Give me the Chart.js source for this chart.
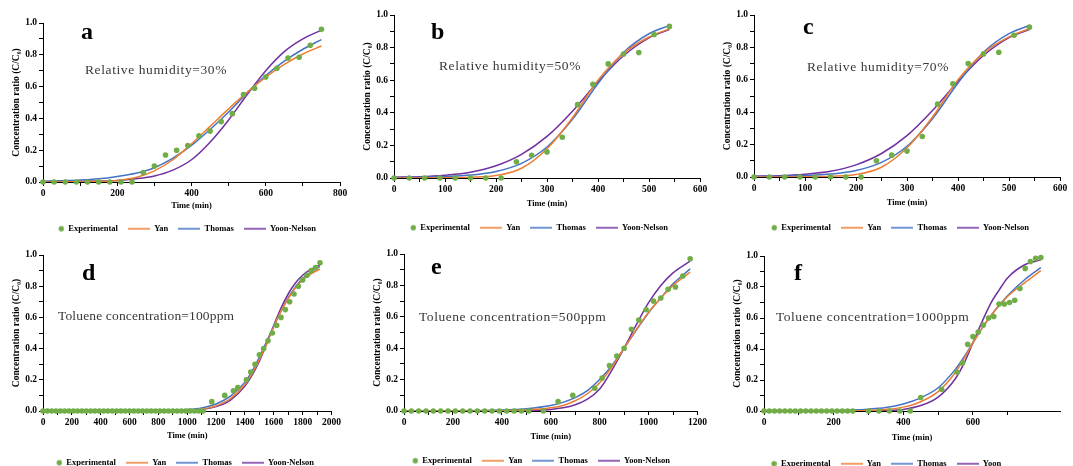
<!DOCTYPE html>
<html>
<head>
<meta charset="utf-8">
<script src="https://cdn.jsdelivr.net/npm/chart.js@4.4.1/dist/chart.umd.min.js"></script>
<style>
html, body { margin: 0; padding: 0; background: #fff; overflow: hidden; }
#fig { position: relative; width: 1073px; height: 466px; }
#fig canvas { position: absolute; }
.tag { position: absolute; font-family: "Liberation Serif", serif; font-weight: bold; font-size: 24px; line-height: 1; color: #000; white-space: nowrap; }
.note { position: absolute; font-family: "Liberation Serif", serif; font-size: 13.5px; line-height: 1; color: #383838; white-space: nowrap; }
</style>
</head>
<body>
<div id="fig">
  <canvas id="chartA" width="350" height="243" style="left:0px;top:0px"></canvas>
  <canvas id="chartB" width="359" height="242" style="left:351px;top:0px"></canvas>
  <canvas id="chartC" width="359" height="242" style="left:711px;top:0px"></canvas>
  <canvas id="chartD" width="343" height="242" style="left:0px;top:235px"></canvas>
  <canvas id="chartE" width="348" height="240" style="left:361px;top:235px"></canvas>
  <canvas id="chartF" width="349" height="243" style="left:721px;top:235px"></canvas>

  <div class="tag" style="left:81px;top:19px">a</div>
  <div class="tag" style="left:431px;top:19px">b</div>
  <div class="tag" style="left:803px;top:14px">c</div>
  <div class="tag" style="left:82px;top:260px">d</div>
  <div class="tag" style="left:431px;top:254px">e</div>
  <div class="tag" style="left:794px;top:260px">f</div>

  <div class="note" style="left:85px;top:62.6px;letter-spacing:0.6px">Relative humidity=30%</div>
  <div class="note" style="left:439px;top:59.3px;letter-spacing:0.6px">Relative humidity=50%</div>
  <div class="note" style="left:807px;top:60px;letter-spacing:0.6px">Relative humidity=70%</div>
  <div class="note" style="left:58px;top:308.6px;letter-spacing:0.15px">Toluene concentration=100ppm</div>
  <div class="note" style="left:419px;top:310px;letter-spacing:0.55px">Toluene concentration=500ppm</div>
  <div class="note" style="left:776px;top:310.3px;letter-spacing:0.5px">Toluene concentration=1000ppm</div>
</div>

<script>
// ---- data ----

// a: relative humidity 30%
const aExpTime = [0, 30, 60, 90, 120, 150, 180, 210, 240, 270, 300, 330, 360, 390, 420, 450, 480, 510, 540, 570, 600, 630, 660, 690, 720, 750];
const aExpRatio = [0, 0, 0, 0, 0, 0, 0, 0, 0, 0.06, 0.10, 0.17, 0.20, 0.23, 0.29, 0.32, 0.38, 0.43, 0.55, 0.59, 0.66, 0.715, 0.78, 0.785, 0.86, 0.96];
const aFitTime = [0, 50, 100, 150, 200, 250, 300, 350, 400, 450, 500, 550, 600, 650, 700, 750];
const aYan = [0, 0.001, 0.002, 0.004, 0.01, 0.028, 0.07, 0.14, 0.24, 0.35, 0.46, 0.565, 0.66, 0.74, 0.805, 0.855];
const aThomas = [0.005, 0.008, 0.012, 0.02, 0.035, 0.055, 0.09, 0.15, 0.23, 0.33, 0.44, 0.56, 0.67, 0.76, 0.835, 0.895];
const aYoon = [0.002, 0.003, 0.004, 0.006, 0.01, 0.02, 0.038, 0.075, 0.14, 0.25, 0.39, 0.55, 0.70, 0.82, 0.90, 0.955];

// b: relative humidity 50%
const bExpTime = [0, 30, 60, 90, 120, 150, 180, 210, 240, 270, 300, 330, 360, 390, 420, 450, 480, 510, 540];
const bExpRatio = [0, 0, 0, 0, 0, 0, 0, 0, 0.10, 0.14, 0.16, 0.25, 0.45, 0.575, 0.70, 0.76, 0.77, 0.88, 0.93];
const bFitTime = [0, 50, 100, 150, 200, 250, 300, 350, 400, 450, 500, 540];
const bYan = [0, 0, 0.001, 0.005, 0.015, 0.06, 0.18, 0.37, 0.60, 0.765, 0.865, 0.915];
const bThomas = [0.003, 0.005, 0.009, 0.018, 0.04, 0.09, 0.19, 0.36, 0.58, 0.77, 0.885, 0.935];
const bYoon = [0.005, 0.008, 0.017, 0.035, 0.075, 0.145, 0.255, 0.41, 0.59, 0.75, 0.86, 0.91];

// c: relative humidity 70%
const cExpTime = [0, 30, 60, 90, 120, 150, 180, 210, 240, 270, 300, 330, 360, 390, 420, 450, 480, 510, 540];
const cExpRatio = [0, 0, 0, 0, 0, 0, 0, 0, 0.10, 0.135, 0.16, 0.25, 0.45, 0.575, 0.70, 0.76, 0.77, 0.875, 0.925];
const cFitTime = [0, 50, 100, 150, 200, 250, 300, 350, 400, 450, 500, 540];
const cYan = [0, 0, 0.001, 0.005, 0.015, 0.06, 0.18, 0.37, 0.60, 0.765, 0.865, 0.915];
const cThomas = [0.003, 0.005, 0.009, 0.018, 0.04, 0.09, 0.19, 0.36, 0.58, 0.77, 0.885, 0.935];
const cYoon = [0.005, 0.008, 0.017, 0.035, 0.075, 0.145, 0.255, 0.41, 0.59, 0.75, 0.86, 0.91];

// d: toluene 100 ppm
const dExpTime = [0, 30, 60, 90, 120, 150, 180, 210, 240, 270, 300, 330, 360, 390, 420, 450, 480, 510, 540, 570,
  600, 630, 660, 690, 720, 750, 780, 810, 840, 870, 900, 930, 960, 990, 1020, 1050, 1080, 1110,
  1170, 1260, 1320, 1350, 1410, 1440, 1470, 1500, 1530, 1560, 1590, 1620, 1650, 1680, 1710, 1740, 1770, 1800, 1830, 1860, 1890, 1920];
const dExpRatio = [0, 0, 0, 0, 0, 0, 0, 0, 0, 0, 0, 0, 0, 0, 0, 0, 0, 0, 0, 0,
  0, 0, 0, 0, 0, 0, 0, 0, 0, 0, 0, 0, 0, 0, 0, 0, 0, 0,
  0.06, 0.10, 0.13, 0.15, 0.20, 0.25, 0.30, 0.36, 0.40, 0.45, 0.50, 0.55, 0.60, 0.65, 0.70, 0.75, 0.80, 0.84, 0.87, 0.90, 0.92, 0.95];
const dFitTime = [0, 200, 400, 600, 800, 1000, 1100, 1200, 1300, 1400, 1450, 1500, 1550, 1600, 1650, 1700, 1750, 1800, 1850, 1920];
const dYan = [0, 0, 0, 0, 0.001, 0.004, 0.012, 0.033, 0.08, 0.17, 0.24, 0.33, 0.43, 0.54, 0.64, 0.72, 0.79, 0.84, 0.875, 0.91];
const dThomas = [0, 0, 0, 0.001, 0.003, 0.01, 0.02, 0.045, 0.095, 0.185, 0.255, 0.345, 0.445, 0.545, 0.64, 0.725, 0.795, 0.85, 0.885, 0.925];
const dYoon = [0, 0, 0, 0, 0.001, 0.004, 0.01, 0.028, 0.07, 0.16, 0.23, 0.32, 0.43, 0.55, 0.66, 0.75, 0.82, 0.87, 0.905, 0.935];

// e: toluene 500 ppm
const eExpTime = [0, 30, 60, 90, 120, 150, 180, 210, 240, 270, 300, 330, 360, 390, 420, 450, 480, 510, 570,
  630, 690, 780, 810, 840, 870, 900, 930, 960, 990, 1020, 1050, 1080, 1110, 1140, 1170];
const eExpRatio = [0, 0, 0, 0, 0, 0, 0, 0, 0, 0, 0, 0, 0, 0, 0, 0, 0, 0, 0,
  0.06, 0.10, 0.145, 0.21, 0.29, 0.35, 0.40, 0.52, 0.58, 0.645, 0.70, 0.72, 0.775, 0.79, 0.86, 0.97];
const eFitTime = [0, 200, 400, 500, 600, 650, 700, 750, 800, 850, 900, 950, 1000, 1050, 1100, 1170];
const eYan = [0, 0, 0.002, 0.006, 0.02, 0.035, 0.065, 0.11, 0.18, 0.28, 0.40, 0.52, 0.63, 0.72, 0.80, 0.885];
const eThomas = [0, 0.001, 0.006, 0.015, 0.035, 0.055, 0.085, 0.13, 0.20, 0.29, 0.40, 0.515, 0.625, 0.72, 0.81, 0.905];
const eYoon = [0, 0, 0.001, 0.003, 0.01, 0.02, 0.04, 0.075, 0.14, 0.26, 0.40, 0.55, 0.69, 0.80, 0.88, 0.955];

// f: toluene 1000 ppm
const fExpTime = [0, 15, 30, 45, 60, 75, 90, 105, 120, 135, 150, 165, 180, 195, 210, 225, 240, 255,
  300, 330, 360, 390, 420, 450, 510, 555, 570, 585, 600, 615, 630, 645, 660, 675, 690, 705, 720, 735, 750, 765, 780, 795];
const fExpRatio = [0, 0, 0, 0, 0, 0, 0, 0, 0, 0, 0, 0, 0, 0, 0, 0, 0, 0,
  0, 0, 0, 0, 0, 0.087, 0.14, 0.25, 0.31, 0.43, 0.48, 0.51, 0.555, 0.60, 0.61, 0.69, 0.69, 0.70, 0.715, 0.79, 0.92, 0.965, 0.985, 0.99];
const fFitTime = [0, 100, 200, 300, 350, 400, 450, 500, 550, 575, 600, 625, 650, 675, 700, 750, 795];
const fYan = [0, 0, 0.001, 0.004, 0.01, 0.025, 0.06, 0.125, 0.25, 0.34, 0.44, 0.53, 0.61, 0.68, 0.74, 0.83, 0.905];
const fThomas = [0, 0.001, 0.003, 0.012, 0.022, 0.045, 0.085, 0.15, 0.27, 0.35, 0.44, 0.53, 0.61, 0.68, 0.745, 0.85, 0.925];
const fYoon = [0, 0, 0, 0.001, 0.003, 0.01, 0.035, 0.09, 0.21, 0.31, 0.44, 0.57, 0.69, 0.78, 0.86, 0.945, 0.975];

// ---- styling ----
const SERIF = '"Liberation Serif", "Times New Roman", serif';
const GREEN = '#70AD47';
const ORANGE = '#ED7D31';
const BLUE = '#4472C4';
const PURPLE = '#7030A0';
const ICON_W = 22;

// small canvases used as legend symbols
function legendIcon(kind, color) {
    const c = document.createElement('canvas');
    c.width = ICON_W;
    c.height = 8;
    const g = c.getContext('2d');
    if (kind === 'dot') {
        g.fillStyle = color;
        g.beginPath();
        g.arc(ICON_W - 2.8, 4, 2.7, 0, Math.PI * 2);
        g.fill();
    } else {
        g.strokeStyle = color;
        g.lineWidth = 1.5;
        g.beginPath();
        g.moveTo(0, 4);
        g.lineTo(ICON_W, 4);
        g.stroke();
    }
    return c;
}

// moves the legend so it sits where it does in the figure
const legendShift = {
    id: 'legendShift',
    afterLayout(chart, args, opts) {
        const lg = chart.legend;
        if (!lg) return;
        const d = opts.center - (lg.left + lg.right) / 2;
        lg.left += d;
        lg.right += d;
    }
};

function pairs(xs, ys) {
    return xs.map((x, i) => ({ x: x, y: ys[i] }));
}

function fitLine(label, color, xs, ys) {
    return {
        label: label,
        data: pairs(xs, ys),
        showLine: true,
        borderColor: color,
        backgroundColor: color,
        borderWidth: 1.5,
        pointRadius: 0,
        cubicInterpolationMode: 'monotone',
        icon: legendIcon('line', color)
    };
}

function makePanel(p) {
    const tickFont = { family: SERIF, size: 9.5, weight: 'bold' };
    const titleFont = { family: SERIF, size: 8.5, weight: 'bold' };
    const axisGrid = { display: true, drawOnChartArea: false, drawTicks: true, tickLength: 4, color: '#000', lineWidth: 1 };

    new Chart(document.getElementById(p.id), {
        type: 'scatter',
        data: {
            datasets: [
                {
                    label: 'Experimental',
                    data: pairs(p.expTime, p.expRatio),
                    pointRadius: 2.8,
                    pointBorderWidth: 0,
                    pointBackgroundColor: GREEN,
                    borderColor: GREEN,
                    backgroundColor: GREEN,
                    clip: false,
                    icon: legendIcon('dot', GREEN)
                },
                fitLine('Yan', ORANGE, p.fitTime, p.yan),
                fitLine('Thomas', BLUE, p.fitTime, p.thomas),
                fitLine(p.yoonLabel, PURPLE, p.fitTime, p.yoon)
            ]
        },
        options: {
            responsive: false,
            animation: false,
            devicePixelRatio: 1,
            events: [],
            layout: { padding: { left: 8, top: p.padTop, right: 10, bottom: 0 } },
            scales: {
                x: {
                    type: 'linear',
                    min: 0,
                    max: p.xMax,
                    border: { color: '#000', width: 1 },
                    grid: axisGrid,
                    ticks: {
                        stepSize: p.xStep,
                        autoSkip: false,
                        maxRotation: 0,
                        padding: 2,
                        color: '#000',
                        font: tickFont,
                        callback: v => (v % p.xStep !== 0 ? null : (v % p.xLabel === 0 ? String(v) : ''))
                    },
                    title: { display: true, text: 'Time (min)', color: '#000', font: titleFont, padding: { top: 0, bottom: p.titlePad } },
                    afterFit: s => { s.height = p.xh; }
                },
                y: {
                    min: 0,
                    max: 1,
                    border: { color: '#000', width: 1 },
                    grid: axisGrid,
                    ticks: {
                        stepSize: 0.1,
                        autoSkip: false,
                        padding: 2,
                        color: '#000',
                        font: tickFont,
                        callback: v => (Math.round(v * 10) % 2 === 0 ? v.toFixed(1) : '')
                    },
                    title: { display: true, text: 'Concentration ratio (C/C\u2080)', color: '#000', font: { family: SERIF, size: 9.5, weight: 'bold' }, padding: { top: 3, bottom: 0 } },
                    afterFit: s => { s.width = 35; }
                }
            },
            plugins: {
                tooltip: { enabled: false },
                legendShift: { center: p.legendX },
                legend: {
                    position: 'bottom',
                    labels: {
                        usePointStyle: true,
                        pointStyleWidth: ICON_W,
                        padding: 10,
                        color: '#000',
                        font: { family: SERIF, size: 8.5, weight: 'bold' },
                        generateLabels: chart => chart.data.datasets.map((ds, i) => ({
                            text: ds.label,
                            pointStyle: ds.icon,
                            fillStyle: ds.borderColor,
                            strokeStyle: ds.borderColor,
                            lineWidth: 0,
                            hidden: false,
                            datasetIndex: i,
                            fontColor: '#000'
                        }))
                    }
                }
            }
        },
        plugins: [legendShift]
    });
}

window.onload = function() {
    makePanel({ id: 'chartA', expTime: aExpTime, expRatio: aExpRatio, fitTime: aFitTime, yan: aYan, thomas: aThomas, yoon: aYoon, yoonLabel: 'Yoon-Nelson',
        padTop: 23, xMax: 800, xStep: 100, xLabel: 200, xh: 32.5, titlePad: 3.4, legendX: 179 });
    makePanel({ id: 'chartB', expTime: bExpTime, expRatio: bExpRatio, fitTime: bFitTime, yan: bYan, thomas: bThomas, yoon: bYoon, yoonLabel: 'Yoon-Nelson',
        padTop: 15, xMax: 600, xStep: 50, xLabel: 100, xh: 35.5, titlePad: 4.4, legendX: 180 });
    makePanel({ id: 'chartC', expTime: cExpTime, expRatio: cExpRatio, fitTime: cFitTime, yan: cYan, thomas: cThomas, yoon: cYoon, yoonLabel: 'Yoon-Nelson',
        padTop: 15, xMax: 600, xStep: 50, xLabel: 100, xh: 36.5, titlePad: 5.4, legendX: 181 });
    makePanel({ id: 'chartD', expTime: dExpTime, expRatio: dExpRatio, fitTime: dFitTime, yan: dYan, thomas: dThomas, yoon: dYoon, yoonLabel: 'Yoon-Nelson',
        padTop: 20, xMax: 2000, xStep: 100, xLabel: 200, xh: 37.5, titlePad: 7.4, legendX: 177 });
    makePanel({ id: 'chartE', expTime: eExpTime, expRatio: eExpRatio, fitTime: eFitTime, yan: eYan, thomas: eThomas, yoon: eYoon, yoonLabel: 'Yoon-Nelson',
        padTop: 19, xMax: 1200, xStep: 100, xLabel: 200, xh: 35.5, titlePad: 4.4, legendX: 172 });
    makePanel({ id: 'chartF', expTime: fExpTime, expRatio: fExpRatio, fitTime: fFitTime, yan: fYan, thomas: fThomas, yoon: fYoon, yoonLabel: 'Yoon',
        padTop: 21, xMax: 850, xStep: 100, xLabel: 200, xh: 38.5, titlePad: 6.4, legendX: 157 });
};
</script>
</body>
</html>
